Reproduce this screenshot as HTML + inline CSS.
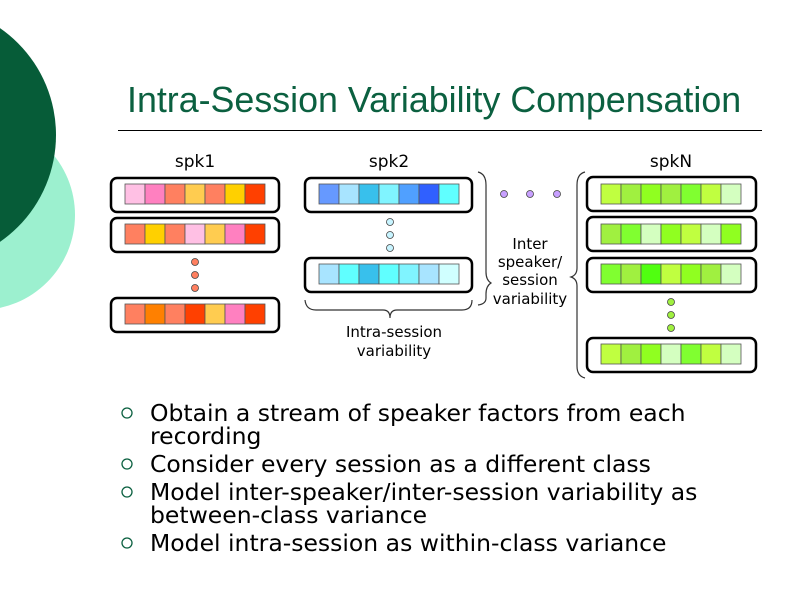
<html><head><style>body{margin:0;background:#fff}svg{display:block}</style></head><body>
<svg width="800" height="599" xmlns="http://www.w3.org/2000/svg" font-family="DejaVu Sans, Verdana, sans-serif">
<circle cx="-20" cy="215" r="95" fill="#9cf0cf"/>
<circle cx="-74" cy="135" r="130" fill="#065c38"/>
<text x="127" y="112" font-family="Liberation Sans, sans-serif" font-size="35.8" fill="#0b6040">Intra-Session Variability Compensation</text>
<line x1="118" y1="130.5" x2="762" y2="130.5" stroke="#000" stroke-width="1"/>
<g font-size="17" fill="#000" text-anchor="middle">
<text x="195" y="167">spk1</text><text x="389" y="167">spk2</text><text x="671" y="167">spkN</text>
</g>
<g font-size="15" text-anchor="middle">
<text x="394" y="337">Intra-session</text><text x="394" y="356">variability</text>
<text x="530" y="249">Inter</text><text x="530" y="267">speaker/</text><text x="530" y="285">session</text><text x="530" y="304">variability</text>
</g>
<g fill="none" stroke="#000" stroke-width="2.5">
<rect x="111" y="178" width="168" height="34" rx="6"/>
<rect x="111" y="218" width="168" height="34" rx="6"/>
<rect x="111" y="298" width="168" height="34" rx="6"/>
<rect x="305" y="178" width="167" height="34" rx="6"/>
<rect x="305" y="258" width="167" height="34" rx="6"/>
<rect x="587" y="177" width="169" height="34" rx="6"/>
<rect x="587" y="217" width="169" height="34" rx="6"/>
<rect x="587" y="258" width="169" height="34" rx="6"/>
<rect x="587" y="338" width="169" height="34" rx="6"/>
</g>
<g fill="none" stroke="#333" stroke-width="1.2">
<path d="M305 300 Q306 310 316 310 L383 310 Q390 310 390 318 Q390 310 397 310 L462 310 Q472 310 472 300"/>
<path d="M478 172 Q486 174 486 185 L486 272 Q486 280 491 283 Q486 286 486 294 L486 298 Q486 304 478 305"/>
<path d="M585 172 Q577 174 577 185 L577 268 Q577 275 571 277 Q577 279 577 286 L577 366 Q577 376 585 378"/>
</g>
<g stroke="#555" stroke-width="0.8">
<g transform="translate(125,184)">
<rect x="0" width="20" height="20" fill="#ffc0e4"/><rect x="20" width="20" height="20" fill="#ff80c0"/><rect x="40" width="20" height="20" fill="#ff8060"/><rect x="60" width="20" height="20" fill="#ffcc50"/><rect x="80" width="20" height="20" fill="#ff8060"/><rect x="100" width="20" height="20" fill="#ffd000"/><rect x="120" width="20" height="20" fill="#ff4000"/></g>
<g transform="translate(125,224)">
<rect x="0" width="20" height="20" fill="#ff8060"/><rect x="20" width="20" height="20" fill="#ffd000"/><rect x="40" width="20" height="20" fill="#ff8060"/><rect x="60" width="20" height="20" fill="#ffc0e4"/><rect x="80" width="20" height="20" fill="#ffcc50"/><rect x="100" width="20" height="20" fill="#ff80c0"/><rect x="120" width="20" height="20" fill="#ff4000"/></g>
<g transform="translate(125,304)">
<rect x="0" width="20" height="20" fill="#ff8060"/><rect x="20" width="20" height="20" fill="#ff8000"/><rect x="40" width="20" height="20" fill="#ff8060"/><rect x="60" width="20" height="20" fill="#ff4000"/><rect x="80" width="20" height="20" fill="#ffcc50"/><rect x="100" width="20" height="20" fill="#ff80c0"/><rect x="120" width="20" height="20" fill="#ff4000"/></g>
<g transform="translate(319,184)">
<rect x="0" width="20" height="20" fill="#6699ff"/><rect x="20" width="20" height="20" fill="#a8e4ff"/><rect x="40" width="20" height="20" fill="#38c0ec"/><rect x="60" width="20" height="20" fill="#80f4ff"/><rect x="80" width="20" height="20" fill="#50a0ff"/><rect x="100" width="20" height="20" fill="#3060ff"/><rect x="120" width="20" height="20" fill="#60ffff"/></g>
<g transform="translate(319,264)">
<rect x="0" width="20" height="20" fill="#a8e4ff"/><rect x="20" width="20" height="20" fill="#60ffff"/><rect x="40" width="20" height="20" fill="#38c0ec"/><rect x="60" width="20" height="20" fill="#60ffff"/><rect x="80" width="20" height="20" fill="#80f4ff"/><rect x="100" width="20" height="20" fill="#a8e4ff"/><rect x="120" width="20" height="20" fill="#d0ffff"/></g>
<g transform="translate(601,184)">
<rect x="0" width="20" height="20" fill="#c0ff40"/><rect x="20" width="20" height="20" fill="#a0f040"/><rect x="40" width="20" height="20" fill="#90ff20"/><rect x="60" width="20" height="20" fill="#a0f040"/><rect x="80" width="20" height="20" fill="#80ff30"/><rect x="100" width="20" height="20" fill="#c0ff40"/><rect x="120" width="20" height="20" fill="#d4ffc0"/></g>
<g transform="translate(601,224)">
<rect x="0" width="20" height="20" fill="#a0f040"/><rect x="20" width="20" height="20" fill="#80ff30"/><rect x="40" width="20" height="20" fill="#d4ffc0"/><rect x="60" width="20" height="20" fill="#90ff20"/><rect x="80" width="20" height="20" fill="#c0ff40"/><rect x="100" width="20" height="20" fill="#d4ffc0"/><rect x="120" width="20" height="20" fill="#90ff20"/></g>
<g transform="translate(601,264)">
<rect x="0" width="20" height="20" fill="#80ff30"/><rect x="20" width="20" height="20" fill="#a0f040"/><rect x="40" width="20" height="20" fill="#50ff10"/><rect x="60" width="20" height="20" fill="#c0ff40"/><rect x="80" width="20" height="20" fill="#90ff20"/><rect x="100" width="20" height="20" fill="#a0f040"/><rect x="120" width="20" height="20" fill="#d4ffc0"/></g>
<g transform="translate(601,344)">
<rect x="0" width="20" height="20" fill="#c0ff40"/><rect x="20" width="20" height="20" fill="#a0f040"/><rect x="40" width="20" height="20" fill="#90ff20"/><rect x="60" width="20" height="20" fill="#d4ffc0"/><rect x="80" width="20" height="20" fill="#80ff30"/><rect x="100" width="20" height="20" fill="#c0ff40"/><rect x="120" width="20" height="20" fill="#d4ffc0"/></g>
</g>
<g stroke="#444" stroke-width="0.8">
<g fill="#ff8060"><circle cx="195" cy="262" r="3.5"/><circle cx="195" cy="275" r="3.5"/><circle cx="195" cy="288" r="3.5"/></g>
<g fill="#c8f4ff"><circle cx="390" cy="222" r="3.5"/><circle cx="390" cy="235" r="3.5"/><circle cx="390" cy="248" r="3.5"/></g>
<g fill="#c8a0ff"><circle cx="504" cy="194" r="3.5"/><circle cx="530" cy="194" r="3.5"/><circle cx="557" cy="194" r="3.5"/></g>
<g fill="#a0f040"><circle cx="671" cy="302" r="3.5"/><circle cx="671" cy="315" r="3.5"/><circle cx="671" cy="328" r="3.5"/></g>
</g>
<g fill="none" stroke="#0b6040" stroke-width="1.3">
<circle cx="127" cy="413" r="5"/><circle cx="127" cy="464" r="5"/><circle cx="127" cy="492" r="5"/><circle cx="127" cy="543" r="5"/>
</g>
<g font-size="23.5" fill="#000">
<text x="150" y="421">Obtain a stream of speaker factors from each</text>
<text x="150" y="444">recording</text>
<text x="150" y="472">Consider every session as a different class</text>
<text x="150" y="500">Model inter-speaker/inter-session variability as</text>
<text x="150" y="523">between-class variance</text>
<text x="150" y="551">Model intra-session as within-class variance</text>
</g>
</svg>
</body></html>
